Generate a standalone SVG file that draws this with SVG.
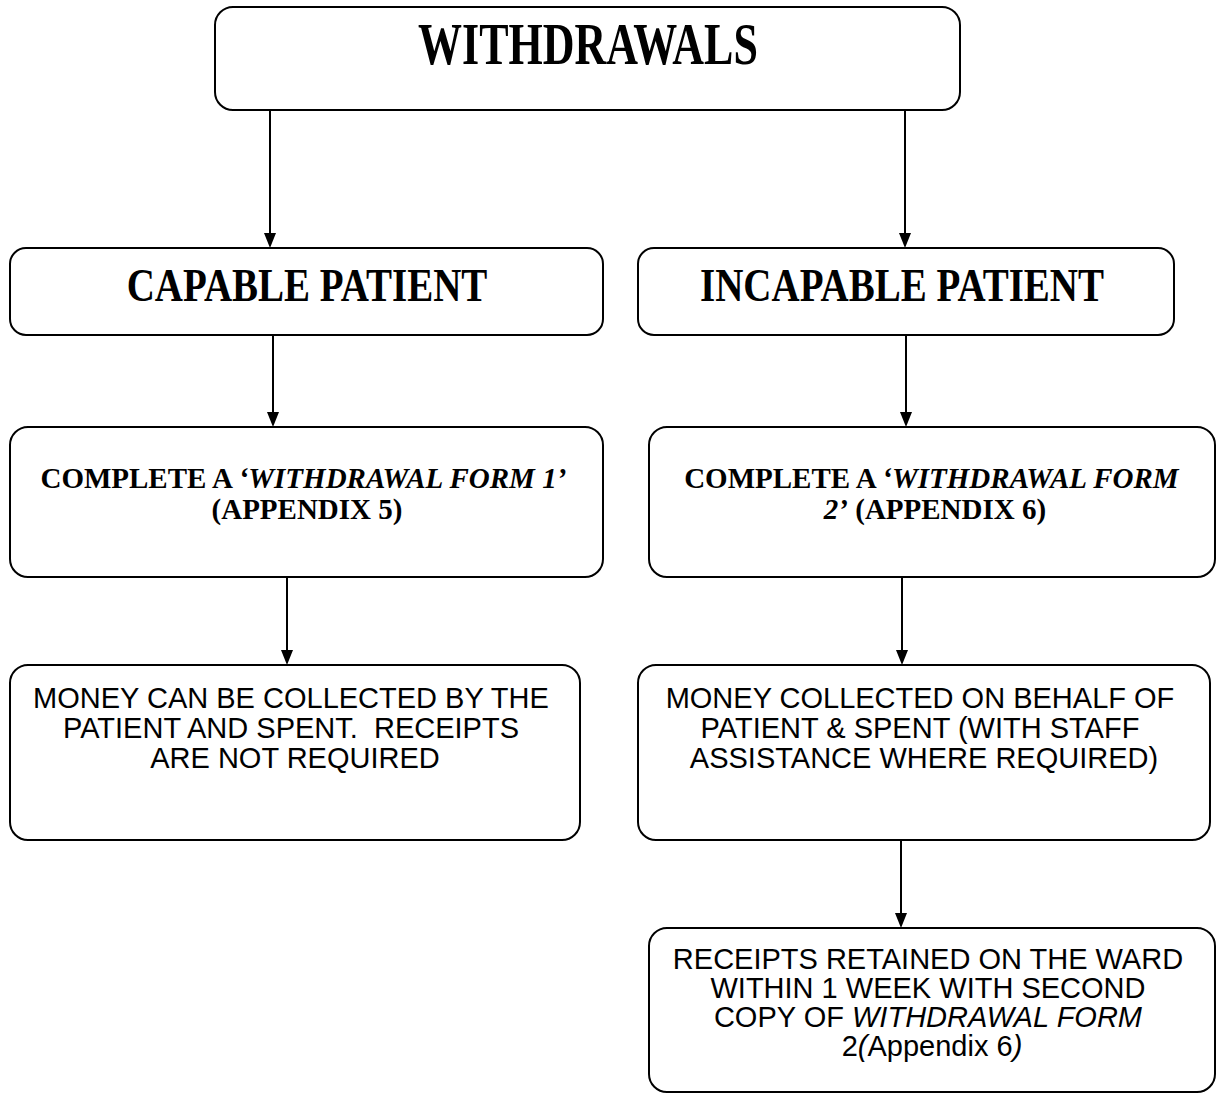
<svg xmlns="http://www.w3.org/2000/svg" width="1217" height="1093" viewBox="0 0 1217 1093">
  <style>
    .box { fill: #fff; stroke: #000; stroke-width: 2; }
    .link { stroke: #000; stroke-width: 2; fill: none; }
    .tip { fill: #000; }
    .head { font-family: "Liberation Serif", "Times New Roman", serif; font-weight: bold; fill: #000; text-anchor: middle; }
    .body { font-family: "Liberation Sans", Arial, sans-serif; font-size: 29px; fill: #000; text-anchor: middle; }
    .it { font-style: italic; }
  </style>
  <rect width="1217" height="1093" fill="#fff"/>

  <!-- connectors: shaft plus filled triangular tip -->
  <g id="connectors">
    <line class="link" x1="270" y1="110" x2="270" y2="240"/>
    <path class="tip" d="M264,233 L276,233 L270,248 Z"/>
    <line class="link" x1="905" y1="110" x2="905" y2="240"/>
    <path class="tip" d="M899,233 L911,233 L905,248 Z"/>
    <line class="link" x1="273" y1="335" x2="273" y2="420"/>
    <path class="tip" d="M267,412 L279,412 L273,427 Z"/>
    <line class="link" x1="906" y1="335" x2="906" y2="420"/>
    <path class="tip" d="M900,412 L912,412 L906,427 Z"/>
    <line class="link" x1="287" y1="577" x2="287" y2="658"/>
    <path class="tip" d="M281,650 L293,650 L287,665 Z"/>
    <line class="link" x1="902" y1="577" x2="902" y2="658"/>
    <path class="tip" d="M896,650 L908,650 L902,665 Z"/>
    <line class="link" x1="901" y1="840" x2="901" y2="921"/>
    <path class="tip" d="M895,913 L907,913 L901,928 Z"/>
  </g>

  <g id="withdrawals">
    <rect class="box" x="215" y="7" width="745" height="103" rx="18"/>
    <text class="head" font-size="44" transform="translate(588,64) scale(1,1.33)">WITHDRAWALS</text>
  </g>

  <g id="capable">
    <rect class="box" x="10" y="248" width="593" height="87" rx="16"/>
    <text class="head" font-size="39" transform="translate(307,301) scale(1,1.2)">CAPABLE PATIENT</text>
  </g>

  <g id="incapable">
    <rect class="box" x="638" y="248" width="536" height="87" rx="16"/>
    <text class="head" font-size="39" transform="translate(902,301) scale(1,1.2)">INCAPABLE PATIENT</text>
  </g>

  <g id="form1">
    <rect class="box" x="10" y="427" width="593" height="150" rx="18"/>
    <text class="head" font-size="29">
      <tspan x="307" y="488">COMPLETE A <tspan class="it">‘WITHDRAWAL FORM 1’</tspan></tspan>
      <tspan x="307" y="519">(APPENDIX 5)</tspan>
    </text>
  </g>

  <g id="form2">
    <rect class="box" x="649" y="427" width="566" height="150" rx="18"/>
    <text class="head" font-size="29">
      <tspan x="935" y="488">COMPLETE A <tspan class="it">‘WITHDRAWAL FORM</tspan></tspan>
      <tspan x="935" y="519"><tspan class="it">2’</tspan> (APPENDIX 6)</tspan>
    </text>
  </g>

  <g id="collect-capable">
    <rect class="box" x="10" y="665" width="570" height="175" rx="18"/>
    <text class="body">
      <tspan x="295" y="708">MONEY CAN BE COLLECTED BY THE</tspan>
      <tspan x="295" y="738">PATIENT AND SPENT.&#160; RECEIPTS</tspan>
      <tspan x="295" y="768">ARE NOT REQUIRED</tspan>
    </text>
  </g>

  <g id="collect-incapable">
    <rect class="box" x="638" y="665" width="572" height="175" rx="18"/>
    <text class="body">
      <tspan x="924" y="708">MONEY COLLECTED ON BEHALF OF</tspan>
      <tspan x="924" y="738">PATIENT &amp; SPENT (WITH STAFF</tspan>
      <tspan x="924" y="768">ASSISTANCE WHERE REQUIRED)</tspan>
    </text>
  </g>

  <g id="receipts">
    <rect class="box" x="649" y="928" width="566" height="164" rx="18"/>
    <text class="body">
      <tspan x="932" y="969">RECEIPTS RETAINED ON THE WARD</tspan>
      <tspan x="932" y="998">WITHIN 1 WEEK WITH SECOND</tspan>
      <tspan x="932" y="1027">COPY OF <tspan class="it">WITHDRAWAL FORM</tspan></tspan>
      <tspan x="932" y="1056">2<tspan class="it">(</tspan>Appendix 6<tspan class="it">)</tspan></tspan>
    </text>
  </g>
</svg>
